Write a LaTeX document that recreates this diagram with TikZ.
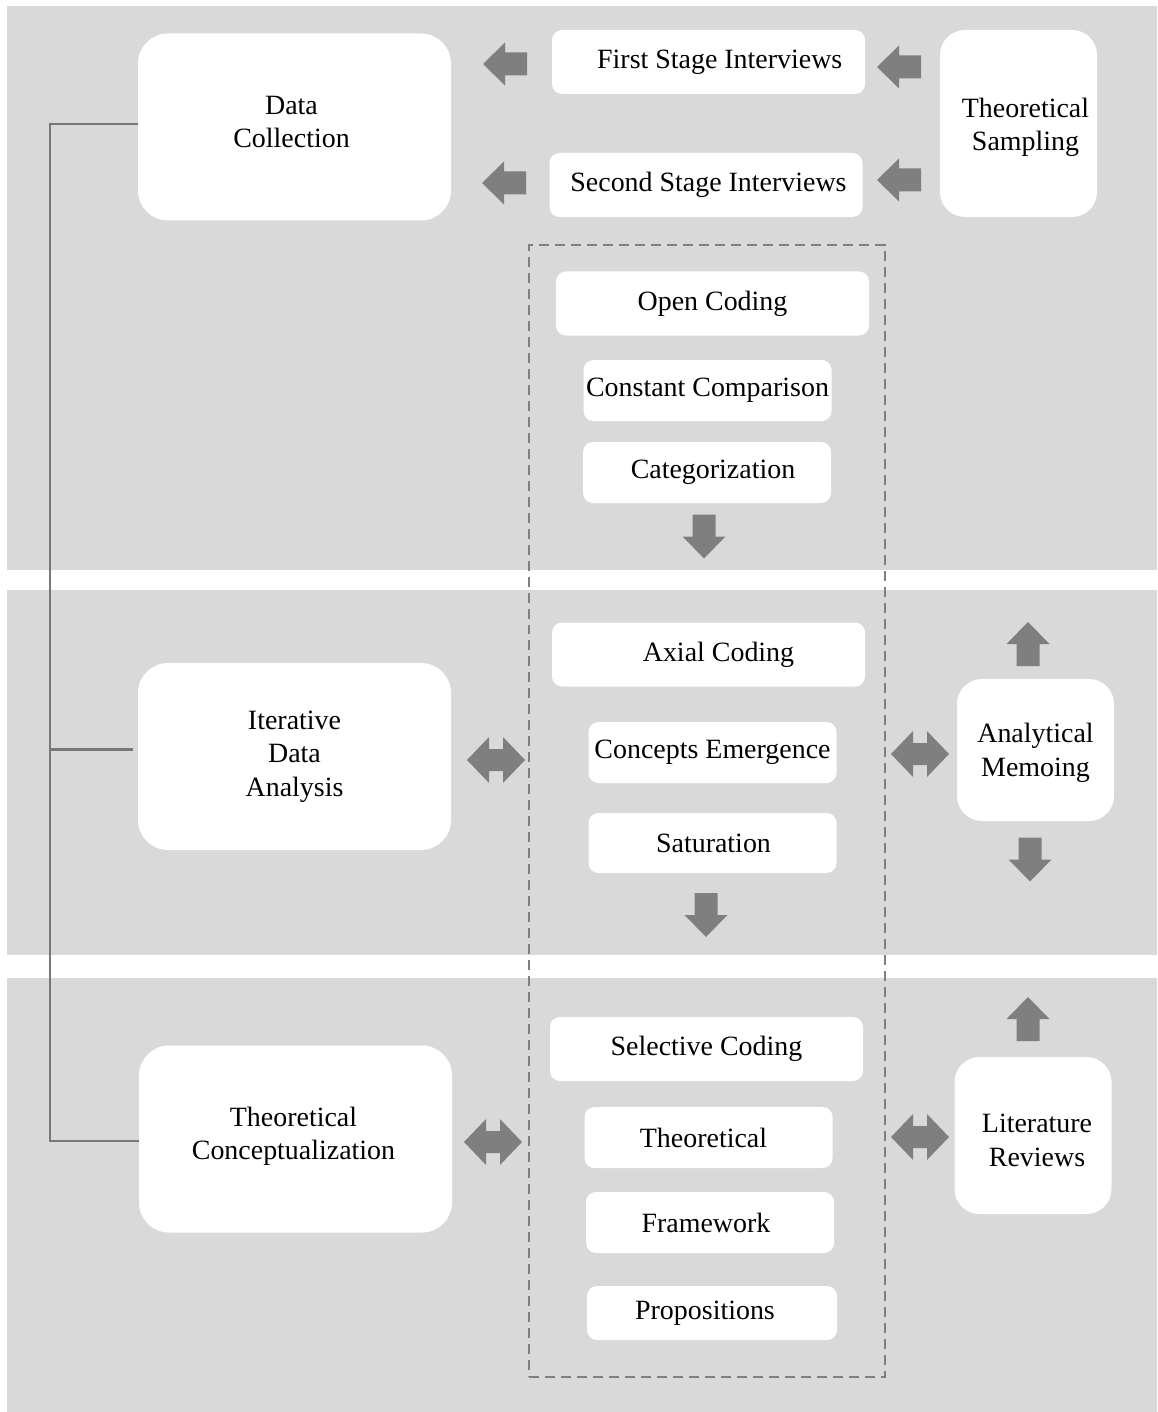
\documentclass[tikz,border=0pt]{standalone}
\usepackage{fontspec}
\setmainfont{Liberation Serif}
\definecolor{bandgray}{HTML}{D9D9D9}
\definecolor{arrowgray}{HTML}{7F7F7F}
\definecolor{linegray}{HTML}{777777}
\newcommand{\lblfont}{\fontsize{15.9}{19}\selectfont}
\tikzset{
  x=0.02cm, y=-0.02cm,
  band/.style={fill=bandgray, draw=none},
  lbltext/.style={align=center, font=\lblfont, inner sep=0pt},
  bigbox/.style={fill=white, draw=none, rounded corners=0.6cm, align=center,
    font=\lblfont, inner sep=0pt, minimum width=313*0.02cm, minimum height=187*0.02cm},
  sidebox/.style={fill=white, draw=none, rounded corners=0.5cm, align=center,
    font=\lblfont, inner sep=0pt, minimum width=157*0.02cm},
  widebox/.style={fill=white, draw=none, rounded corners=0.2cm, align=center,
    font=\lblfont, inner sep=0pt, minimum width=313*0.02cm, minimum height=64*0.02cm},
  narrowbox/.style={fill=white, draw=none, rounded corners=0.2cm, align=center,
    font=\lblfont, inner sep=0pt, minimum width=248*0.02cm, minimum height=61*0.02cm},
  dashbox/.style={draw=arrowgray, line width=1.1pt, dash pattern=on 0.2cm off 0.12cm,
    inner sep=0pt, minimum width=356*0.02cm, minimum height=1132*0.02cm},
  bracket/.style={draw=linegray, line width=1.2pt},
  pics/sarrow/.style={code={
    \fill[arrowgray] (-22,-11.5) -- (0,-11.5) -- (0,-21.5) -- (22,0) -- (0,21.5)
      -- (0,11.5) -- (-22,11.5) -- cycle;}},
  pics/darrow/.style={code={
    \fill[arrowgray] (-29,0) -- (-7,-23) -- (-7,-11) -- (7,-11) -- (7,-23) -- (29,0)
      -- (7,23) -- (7,11) -- (-7,11) -- (-7,23) -- cycle;}},
}
\begin{document}
\begin{tikzpicture}
\useasboundingbox (0,0) rectangle (1157,1412);

% three stage bands
\fill[band] (7,6) rectangle (1157,570);
\fill[band] (7,590) rectangle (1157,955);
\fill[band] (7,978) rectangle (1157,1412);

% dashed frame around the coding steps
\node[dashbox] (core) at (707,811) {};

% main stages on the left
\node[bigbox, label={[lbltext, yshift=0.1cm, xshift=-0.06cm]center:Data\\Collection}] (dc) at (294.5,127) {};
\node[bigbox] (ida) at (294.5,756.5) {Iterative\\Data\\Analysis};
\node[bigbox, label={[lbltext, yshift=0.06cm, xshift=-0.04cm]center:Theoretical\\Conceptualization}] (tc) at (295.5,1139) {};

% supporting activities on the right
\node[sidebox, minimum height=187*0.02cm, label={[lbltext, yshift=-0.08cm, xshift=0.14cm]center:Theoretical\\Sampling}] (ts) at (1018.5,123.5) {};
\node[sidebox, minimum height=142*0.02cm, label={[lbltext, yshift=-0.06cm]center:Analytical\\Memoing}] (am) at (1035.5,750) {};
\node[sidebox, minimum height=157*0.02cm, label={[lbltext, yshift=-0.1cm, xshift=0.08cm]center:Literature\\Reviews}] (lr) at (1033,1135.5) {};

% interviews
\node[widebox] (fsi) at (708.5,62) {\hspace*{0.45cm}First Stage Interviews};
\node[widebox] (ssi) at (706,185) {\hspace*{0.1cm}Second Stage Interviews};

% open coding steps
\node[widebox] (oc) at (712.5,303.5) {Open Coding};
\node[narrowbox] (cc) at (707.5,390.5) {Constant Comparison};
\node[narrowbox] (cat) at (707,472.5) {\hspace*{0.24cm}Categorization};

% axial coding steps
\node[widebox] (ax) at (708.5,654.5) {\hspace*{0.4cm}Axial Coding};
\node[narrowbox] (ce) at (712.5,752.5) {Concepts Emergence};
\node[narrowbox, minimum height=60*0.02cm] (sat) at (712.5,843) {\hspace*{0.04cm}Saturation};

% selective coding steps
\node[widebox] (sc) at (706.5,1049) {Selective Coding};
\node[narrowbox] (th) at (708.5,1137.5) {Theoretical\hspace*{0.2cm}};
\node[narrowbox] (fw) at (710,1222.5) {Framework\hspace*{0.16cm}};
\node[narrowbox, minimum width=250*0.02cm, minimum height=54*0.02cm] (pr) at (712,1313) {Propositions\hspace*{0.28cm}};

% bracket joining the three stages
\coordinate (spine) at (50,0);
\draw[bracket] ([yshift=0.06cm]dc.west) -- ([yshift=0.06cm]dc.west -| spine)
  -- ([yshift=-0.04cm]tc.west -| spine) -- ([yshift=-0.04cm]tc.west);
\draw[bracket] ([xshift=-0.1cm, yshift=0.14cm]ida.west) -- ([yshift=0.14cm]ida.west -| spine);

% block arrows
\pic (la1) at (505,64) [rotate=180] {sarrow};
\pic (la2) at (504,183) [rotate=180] {sarrow};
\pic (ra1) at (899,67) [rotate=180] {sarrow};
\pic (ra2) at (899,180) [rotate=180] {sarrow};
\pic (dn1) at (704,536.5) [rotate=-90] {sarrow};
\pic (dn2) at (706,915) [rotate=-90] {sarrow};
\pic (up1) at (1028,644) [rotate=90] {sarrow};
\pic (dn3) at (1030,859.5) [rotate=-90] {sarrow};
\pic (up2) at (1028,1019) [rotate=90] {sarrow};
\pic (dl1) at (496,760) {darrow};
\pic (dl2) at (493,1142) {darrow};
\pic (dr1) at (920,754) {darrow};
\pic (dr2) at (920,1137) {darrow};
\end{tikzpicture}
\end{document}
